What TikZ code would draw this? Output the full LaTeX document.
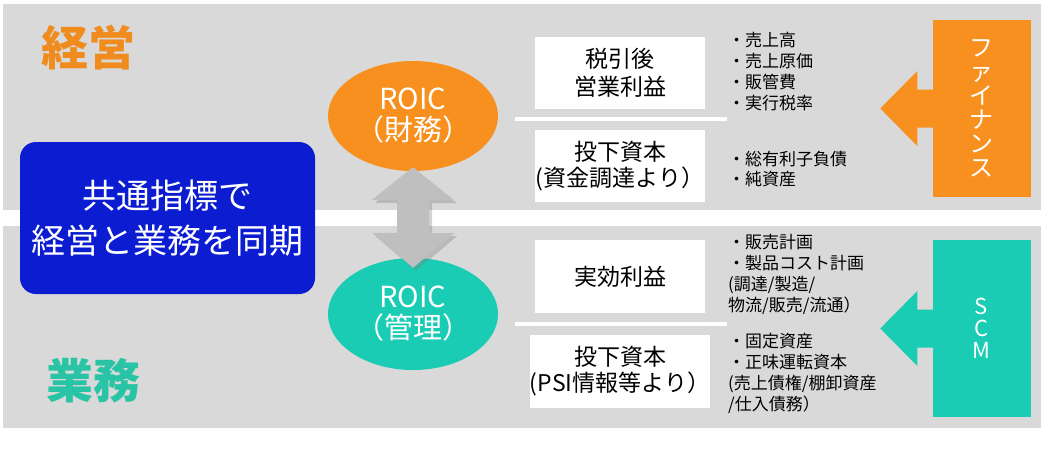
\documentclass[tikz,border=0pt]{standalone}
\usepackage{fontspec}
\setmainfont{Noto Sans CJK JP}
\usetikzlibrary{positioning,shapes.geometric,calc,shadows}
\definecolor{bandgray}{RGB}{217,217,217}
\definecolor{syncblue}{RGB}{12,28,208}
\definecolor{finorange}{RGB}{247,144,30}
\definecolor{scmteal}{RGB}{26,204,180}
\definecolor{arrowgray}{RGB}{191,191,191}
\definecolor{titleorange}{RGB}{240,140,30}
\definecolor{titleteal}{RGB}{40,196,165}

\begin{document}
\begin{tikzpicture}[x=1pt,y=-1pt,
  every node/.style={inner sep=0pt},
  kpibox/.style={fill=white,minimum width=170pt,minimum height=72pt,align=center,font=\fontsize{23}{26}\selectfont},
  roic/.style={ellipse,minimum width=170pt,minimum height=110pt,align=center,text=white,font=\fontsize{29}{31}\selectfont},
  items/.style={anchor=west,align=left,font=\fontsize{17}{20.8}\selectfont},
  srcbox/.style={minimum width=98pt,minimum height=177pt,align=center,text=white},
  title/.style={font=\fontsize{47}{47}\selectfont\bfseries}
]
\useasboundingbox (0,0) rectangle (1041,451);
% background bands
\fill[bandgray] (3,4) rectangle (1041,210);
\fill[bandgray] (3,226) rectangle (1041,428);
% titles
\node[title,text=titleorange] (keiei) at (88,48) {経営};
\node[title,text=titleteal] (gyomu) at (93,381) {業務};
% common indicator box
\node[fill=syncblue,rounded corners=16pt,minimum width=295pt,minimum height=152pt,align=center,text=white,font=\fontsize{34}{45}\selectfont] (sync) at (167.5,218) {共通指標で\\経営と業務を同期};
% ROIC ellipses
\node[roic,fill=finorange] (roicF) at (413,116) {ROIC\\（財務）};
\node[roic,fill=scmteal,minimum height=112pt] (roicM) at (413,314) {ROIC\\（管理）};
% double arrow between the ROICs
\coordinate (tipF) at ($(roicF.south)+(0,-4)$);
\coordinate (tipM) at ($(roicM.north)+(0,10)$);
\fill[arrowgray,drop shadow={shadow xshift=3pt,shadow yshift=-3pt,opacity=0.35}]
  (tipF) -- ++(41,33) -- ++(-25,0) -- ++(0,33) -- ++(25,0) -- (tipM)
  -- ++(-41,-35) -- ++(25,0) -- ++(0,-33) -- ++(-25,0) -- cycle;
% dividers
\draw[white,line width=4pt] (515,119) -- (727,119);
\draw[white,line width=4pt] (515,324) -- (727,324);
% indicator boxes
\node[kpibox,font=\fontsize{23}{28}\selectfont] (nopat) at (620,72.5) {税引後\\営業利益};
\node[kpibox] (capF) at (620,166) {投下資本\\(資金調達より）};
\node[kpibox,minimum height=73pt] (profit) at (620,276.5) {実効利益};
\node[kpibox,minimum height=73pt] (capM) at (620,371.5) {投下資本\\(PSI情報等より）};
% item lists
\node[items] (finPL) at (728,71.5) {・売上高\\・売上原価\\・販管費\\・実行税率};
\node[items] (finBS) at (728,169) {・総有利子負債\\・純資産};
\node[items] (scmPL) at (728,274.5) {・販売計画\\・製品コスト計画\\(調達/製造/\\物流/販売/流通）};
\node[items] (scmBS) at (728,373.5) {・固定資産\\・正味運転資本\\(売上債権/棚卸資産\\/仕入債務）};
% sources
\node[srcbox,fill=finorange,font=\fontsize{24}{24}\selectfont] (finance) at (981.5,108.5) {フ\\ァ\\イ\\ナ\\ン\\ス};
\node[srcbox,fill=scmteal,font=\fontsize{22}{22}\selectfont] (scm) at (981.5,328.5) {S\\C\\M};
\fill[finorange] ($(finance.west)+(1,-19)$) -- ++(-16,0) -- ++(0,-18.5) -- ++(-37,37.5)
  -- ++(37,37.5) -- ++(0,-18.5) -- ++(16,0) -- cycle;
\fill[scmteal] ($(scm.west)+(1,-19)$) -- ++(-16,0) -- ++(0,-18.5) -- ++(-37,37.5)
  -- ++(37,37.5) -- ++(0,-18.5) -- ++(16,0) -- cycle;
\end{tikzpicture}
\end{document}
